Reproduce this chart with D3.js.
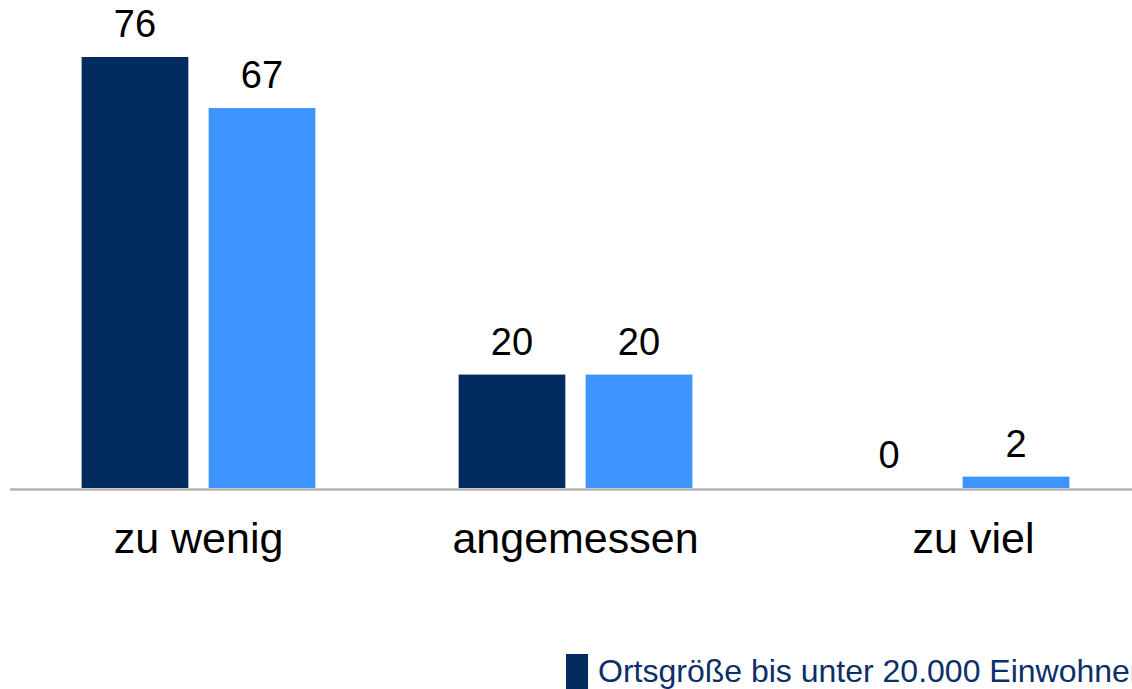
<!DOCTYPE html>
<html>
<head>
<meta charset="utf-8">
<script src="https://cdn.jsdelivr.net/npm/d3@7"></script>
<style>
  html, body { margin: 0; padding: 0; background: #ffffff; overflow: hidden; }
  svg { display: block; font-family: "Liberation Sans", Arial, sans-serif; }
</style>
</head>
<body>
<svg id="chart" width="1132" height="689"></svg>
<script>
// ---- data ----
const categories = ["zu wenig", "angemessen", "zu viel"];
const seriesNames = ["Ortsgröße bis unter 20.000 Einwohner", "Ortsgröße ab 20.000 Einwohner"];
const seriesSmall = [76, 20, 0];
const seriesLarge = [67, 20, 2];
const seriesColors = ["#022b60", "#3d94ff"];

const rows = categories.map((c, i) => ({ cat: c, values: [seriesSmall[i], seriesLarge[i]] }));

const svg = d3.select("#chart");
const W = 1132, H = 689;

const x0 = d3.scaleBand().domain(categories).range([10, 1141]).paddingInner(0.38).paddingOuter(0.19);
const x1 = d3.scaleBand().domain([0, 1]).range([0, x0.bandwidth()]).paddingInner(0.16).paddingOuter(0);
const y = d3.scaleLinear().domain([0, 76]).range([488, 57]);

// bars
const g = svg.append("g");
const groups = g.selectAll("g.grp").data(rows).join("g")
  .attr("class", "grp")
  .attr("transform", d => `translate(${x0(d.cat)},0)`);

groups.selectAll("rect").data(d => d.values.map((v, k) => ({ v, k }))).join("rect")
  .attr("x", d => x1(d.k))
  .attr("width", x1.bandwidth())
  .attr("y", d => y(d.v))
  .attr("height", d => y(0) - y(d.v))
  .attr("fill", d => seriesColors[d.k]);

groups.selectAll("text.val").data(d => d.values.map((v, k) => ({ v, k }))).join("text")
  .attr("class", "val")
  .attr("x", d => x1(d.k) + x1.bandwidth() / 2)
  .attr("y", d => y(d.v) - 20)
  .attr("text-anchor", "middle")
  .attr("font-size", 38)
  .attr("fill", "#000")
  .text(d => d.v);

// baseline axis
const axis = d3.axisBottom(x0).tickSize(0).tickPadding(0);
const ax = svg.append("g").attr("transform", `translate(0,${y(0) + 1.5})`).call(axis);
ax.select(".domain").attr("stroke", "#b3b3b3").attr("stroke-width", 2.5)
  .attr("d", `M10,0H${W}`);
const lastShift = 21;
ax.selectAll(".tick text")
  .attr("font-size", 43)
  .attr("font-family", "Liberation Sans, Arial, sans-serif")
  .attr("fill", "#000")
  .attr("dy", 0)
  .attr("y", 63)
  .attr("x", (d, i) => i === categories.length - 1 ? lastShift : 0);

// legend (first series visible, rest runs past the right edge as in the reference)
const lg = svg.append("g").attr("transform", "translate(566,654)");
lg.append("rect").attr("width", 22).attr("height", 40).attr("fill", seriesColors[0]);
lg.append("text").attr("x", 32).attr("y", 28)
  .attr("font-size", 32).attr("fill", "#0c2f6a")
  .text(seriesNames[0]);
</script>
</body>
</html>
